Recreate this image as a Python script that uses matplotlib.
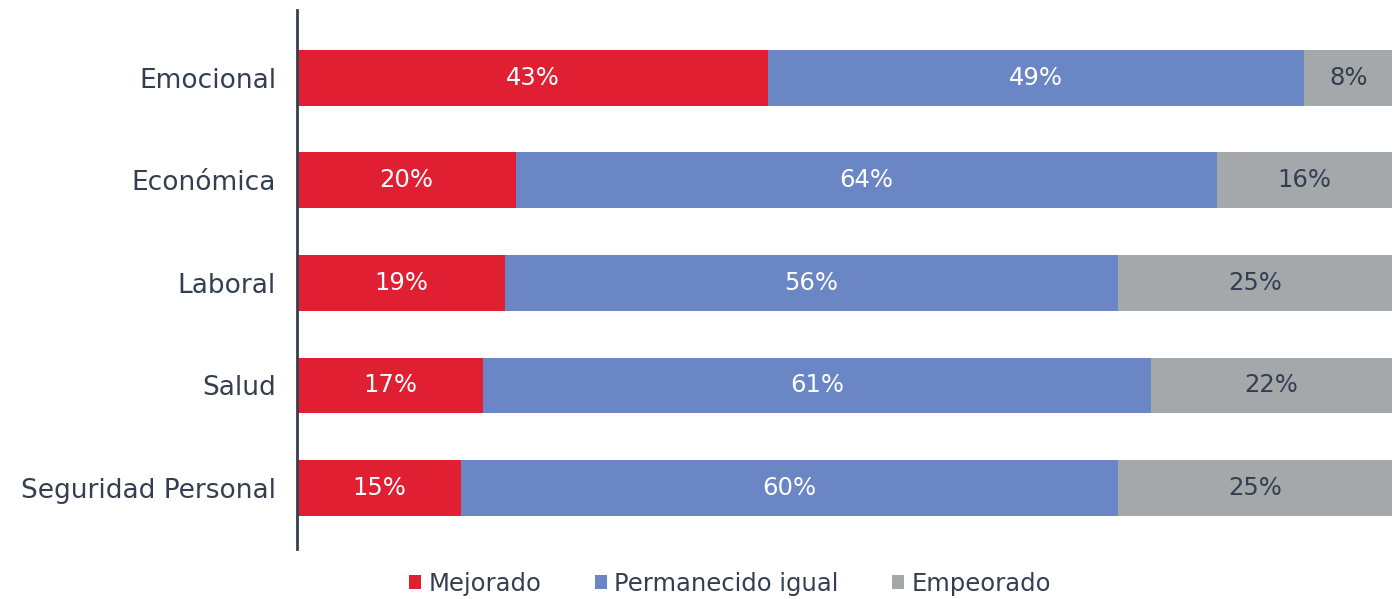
import matplotlib
matplotlib.use('Agg')
import matplotlib.pyplot as plt
import numpy as np

categories = ["Emocional", "Económica", "Laboral", "Salud", "Seguridad Personal"]
mejorado = [43, 20, 19, 17, 15]
igual = [49, 64, 56, 61, 60]
empeorado = [8, 16, 25, 22, 25]
series_names = ["Mejorado", "Permanecido igual", "Empeorado"]

colors = ["#E01F32", "#6A86C5", "#A5A8AB"]
text_dark = "#333F50"

plt.rcParams['font.family'] = ['DejaVu Sans']

fig = plt.figure(figsize=(13.98, 5.99), dpi=100)
ax = fig.add_axes([0.2124, 0.0835, 0.7833, 0.8998])

y = np.arange(len(categories))
left = np.zeros(len(categories))
for vals, col, name in zip([mejorado, igual, empeorado], colors, series_names):
    bars = ax.barh(y, vals, left=left, height=0.546, color=col, label=name)
    tc = text_dark if col == colors[2] else "white"
    for b, v in zip(bars, vals):
        ax.text(b.get_x() + b.get_width() / 2, b.get_y() + b.get_height() / 2,
                f"{v}%", ha='center', va='center', color=tc, fontsize=17.5)
    left += np.array(vals)

ax.set_xlim(0, 100)
ax.set_ylim(4.595, -0.663)
ax.set_yticks(y)
ax.set_yticklabels(categories, fontsize=19, color=text_dark)
ax.tick_params(axis='y', length=0, pad=15)
ax.set_xticks([])
for s in ['top', 'right', 'bottom']:
    ax.spines[s].set_visible(False)
ax.spines['left'].set_color(text_dark)
ax.spines['left'].set_linewidth(2)

leg = fig.legend(loc='center', bbox_to_anchor=(0.522, 1 - 584 / 599), ncol=3,
                 frameon=False, fontsize=17.5, handlelength=0.5, handleheight=0.5,
                 handletextpad=0.3, columnspacing=2.2)
for t in leg.get_texts():
    t.set_color(text_dark)

fig.savefig("out.png", dpi=100)
